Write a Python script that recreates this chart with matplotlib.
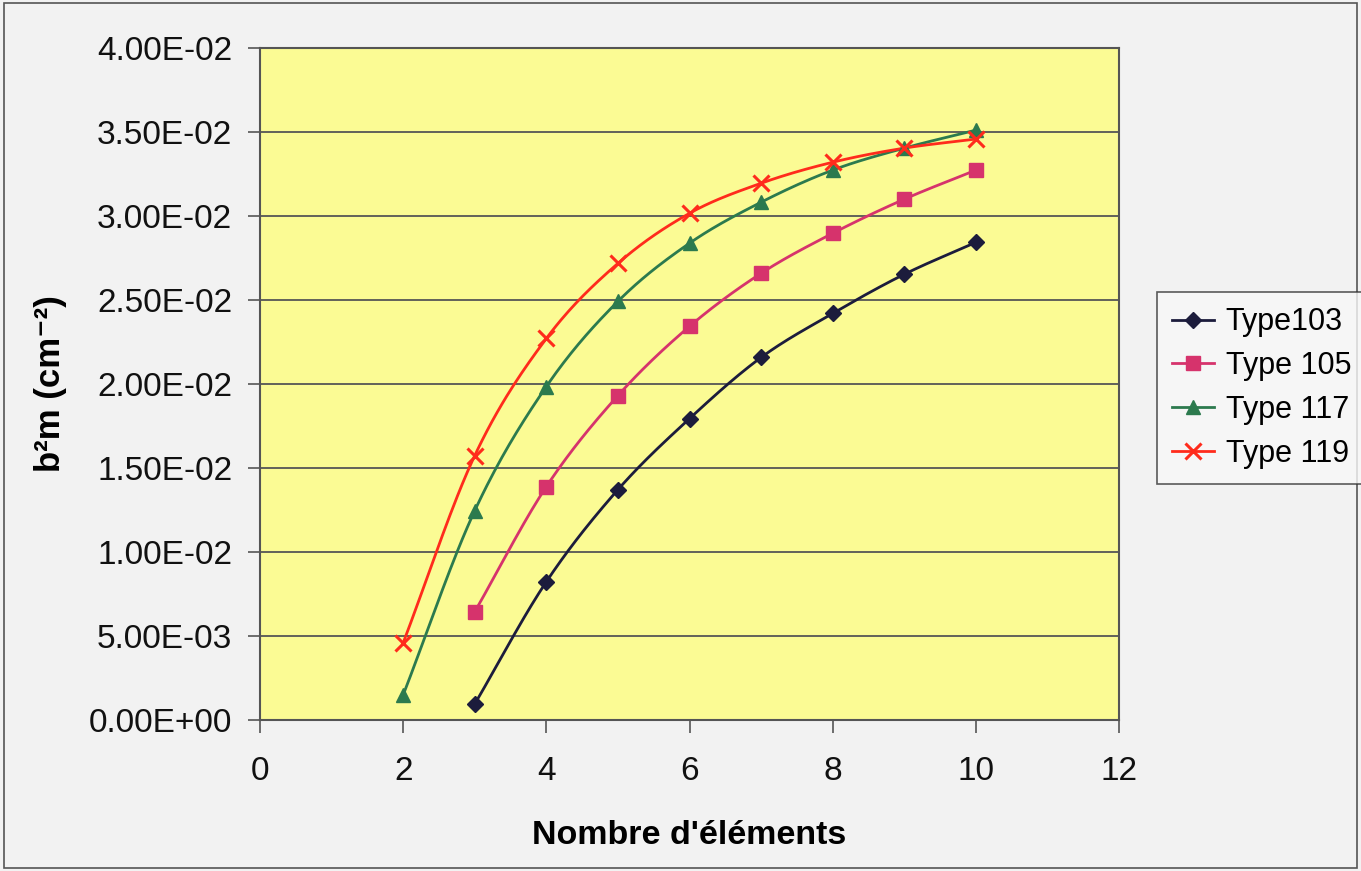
import numpy as np
import matplotlib.pyplot as plt
from matplotlib.ticker import FuncFormatter, MultipleLocator
from matplotlib.patches import Rectangle

plt.rcParams['font.family'] = ['Liberation Sans', 'DejaVu Sans']

# number of elements for each series
x_103 = [3, 4, 5, 6, 7, 8, 9, 10]
x_105 = [3, 4, 5, 6, 7, 8, 9, 10]
x_117 = [2, 3, 4, 5, 6, 7, 8, 9, 10]
x_119 = [2, 3, 4, 5, 6, 7, 8, 9, 10]

# b2m values (cm-2)
y_103 = [0.00095, 0.00823, 0.01371, 0.01794, 0.02158, 0.02420, 0.02653, 0.02843]
y_105 = [0.00644, 0.01389, 0.01931, 0.02343, 0.02659, 0.02897, 0.03100, 0.03273]
y_117 = [0.00149, 0.01246, 0.01985, 0.02492, 0.02838, 0.03082, 0.03273, 0.03404, 0.03511]
y_119 = [0.00459, 0.01574, 0.02271, 0.02718, 0.03016, 0.03195, 0.03320, 0.03404, 0.03458]

labels = ['Type103', 'Type 105', 'Type 117', 'Type 119']


def smooth(xs, ys, n=30):
    # Catmull-Rom curve through the points (like a spreadsheet "smoothed line")
    xs = np.asarray(xs, float)
    ys = np.asarray(ys, float)
    px = np.concatenate([[2 * xs[0] - xs[1]], xs, [2 * xs[-1] - xs[-2]]])
    py = np.concatenate([[2 * ys[0] - ys[1]], ys, [2 * ys[-1] - ys[-2]]])
    cx, cy = [], []
    t = np.linspace(0, 1, n)
    for i in range(1, len(px) - 2):
        for p, out in ((px, cx), (py, cy)):
            p0, p1, p2, p3 = p[i - 1], p[i], p[i + 1], p[i + 2]
            out.extend(0.5 * ((2 * p1) + (-p0 + p2) * t
                              + (2 * p0 - 5 * p1 + 4 * p2 - p3) * t ** 2
                              + (-p0 + 3 * p1 - 3 * p2 + p3) * t ** 3))
    return np.array(cx), np.array(cy)


fig = plt.figure(figsize=(13.61, 8.71), dpi=100, facecolor='#f2f2f2')
fig.patches.append(Rectangle((0.003, 0.003), 0.994, 0.994, transform=fig.transFigure,
                             fill=False, edgecolor='#555555', linewidth=1.2))
ax = fig.add_axes([260 / 1361, 151 / 871, 859 / 1361, 672 / 871])
ax.set_facecolor('#fbfb94')

series = [
    (x_103, y_103, '#1c1c3c', 'D', 8, 1.0),
    (x_105, y_105, '#d6336c', 's', 10, 1.0),
    (x_117, y_117, '#2c7a4e', '^', 10, 1.0),
    (x_119, y_119, '#ff2b1c', 'x', 11, 2.2),
]
for (xs, ys, col, mk, ms, mew), lab in zip(series, labels):
    sx, sy = smooth(xs, ys)
    ax.plot(sx, sy, color=col, linewidth=2, zorder=3)
    ax.plot(xs, ys, linestyle='none', marker=mk, markersize=ms, markeredgewidth=mew,
            color=col, zorder=4)
    ax.plot([], [], color=col, linewidth=2, marker=mk, markersize=ms,
            markeredgewidth=mew, label=lab)

ax.set_xlim(0, 12)
ax.set_ylim(0, 0.04)
ax.xaxis.set_major_locator(MultipleLocator(2))
ax.yaxis.set_major_locator(MultipleLocator(0.005))
ax.yaxis.set_major_formatter(FuncFormatter(lambda v, p: f"{v:.2E}"))
ax.grid(axis='y', color='#555555', linewidth=1.3)
ax.set_axisbelow(True)
for s in ax.spines.values():
    s.set_color('#555555')
    s.set_linewidth(1.5)
ax.tick_params(axis='both', labelsize=24, length=9, width=1.2, color='#555555',
               labelcolor='#111111')
ax.tick_params(axis='y', pad=11)
ax.tick_params(axis='x', pad=17)

ax.set_xlabel("Nombre d'éléments", fontsize=24.5, fontweight='bold', labelpad=24)
ax.set_ylabel("b²m (cm⁻²)", fontsize=25, fontweight='bold', labelpad=16)

leg = fig.legend(loc='center left', bbox_to_anchor=(1157 / 1361, 1 - 388 / 871),
                 fontsize=22, frameon=True, fancybox=False, handlelength=1.35,
                 borderpad=0.5, labelspacing=0.45, handletextpad=0.4,
                 borderaxespad=0)
leg.get_frame().set_edgecolor('#333333')
leg.get_frame().set_facecolor('#f8f8f8')
leg.get_frame().set_linewidth(1.2)

fig.savefig('out.png', dpi=100, facecolor=fig.get_facecolor())
